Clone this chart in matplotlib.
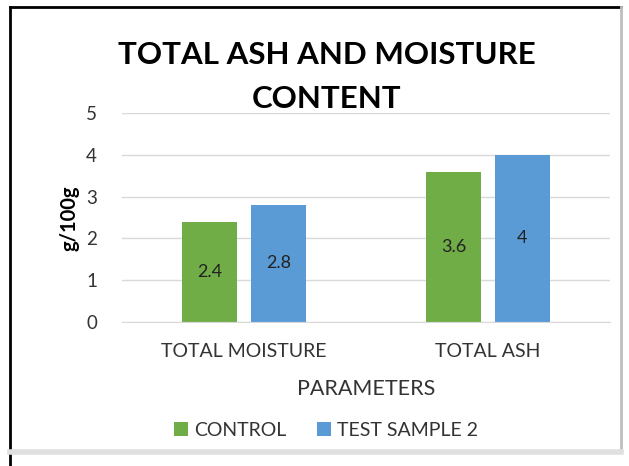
import matplotlib.pyplot as plt
import numpy as np
from matplotlib.lines import Line2D

# Data
categories = ['TOTAL MOISTURE', 'TOTAL ASH']
control = [2.4, 3.6]
test_sample = [2.8, 4]
yticks = [0, 1, 2, 3, 4, 5]

plt.rcParams['font.family'] = ['Lato', 'DejaVu Sans']

fig = plt.figure(figsize=(6.29, 4.66), dpi=100)
W, H = 629, 466
ax = fig.add_axes([122 / W, 1 - 322 / H, 488 / W, 209 / H])

x = np.arange(len(categories))
width = 0.225
off = 0.141
b1 = ax.bar(x - off, control, width, color='#70ad47', label='CONTROL')
b2 = ax.bar(x + off, test_sample, width, color='#5b9bd5', label='TEST SAMPLE 2')

# Value labels in the middle of each bar
for bars in (b1, b2):
    ax.bar_label(bars, labels=[f'{v:g}' for v in bars.datavalues],
                 label_type='center', fontsize=13, color='#222222')

ax.set_xlim(-0.5, 1.5)
ax.set_ylim(0, 5)
ax.set_yticks(yticks)
ax.set_xticks(x)
ax.set_xticklabels(categories, fontsize=14, color='#333333')
ax.tick_params(axis='y', labelsize=13.5, colors='#333333', length=0, pad=18)
ax.tick_params(axis='x', length=0, pad=15)
ax.yaxis.grid(True, color='#d9d9d9', linewidth=1)
ax.set_axisbelow(True)
for s in ['top', 'right', 'left']:
    ax.spines[s].set_visible(False)
ax.spines['bottom'].set_color('#d9d9d9')

ax.set_xlabel('PARAMETERS', fontsize=15.5, color='#333333', labelpad=14)
fig.text(70 / W, 1 - 218 / H, 'g/100g', rotation=90, fontsize=14.5,
         fontweight='bold', ha='center', va='center')

fig.text(327 / W, 1 - 55 / H, 'TOTAL ASH AND MOISTURE', fontsize=22.5,
         fontweight='bold', ha='center', va='center')
fig.text(327 / W, 1 - 99 / H, 'CONTENT', fontsize=22.5,
         fontweight='bold', ha='center', va='center')

fig.legend(handles=[b1, b2], loc='center', bbox_to_anchor=(326 / W, 1 - 430 / H),
           ncol=2, frameon=False, fontsize=14, handlelength=0.7, handleheight=0.7,
           handletextpad=0.3, columnspacing=1.6, labelcolor='#333333')

# Chart border
fig.add_artist(Line2D([10 / W, 10 / W], [0, 1 - 7 / H], color='black', lw=2, transform=fig.transFigure))
fig.add_artist(Line2D([10 / W, 621 / W], [1 - 7 / H, 1 - 7 / H], color='black', lw=2, transform=fig.transFigure))
fig.add_artist(Line2D([621 / W, 621 / W], [1 - 452 / H, 1 - 7 / H], color='#bfbfbf', lw=2, transform=fig.transFigure))
fig.add_artist(Line2D([10 / W, 621 / W], [1 - 452 / H, 1 - 452 / H], color='#e0e0e0', lw=4, transform=fig.transFigure))

fig.savefig('out.png', dpi=100)
